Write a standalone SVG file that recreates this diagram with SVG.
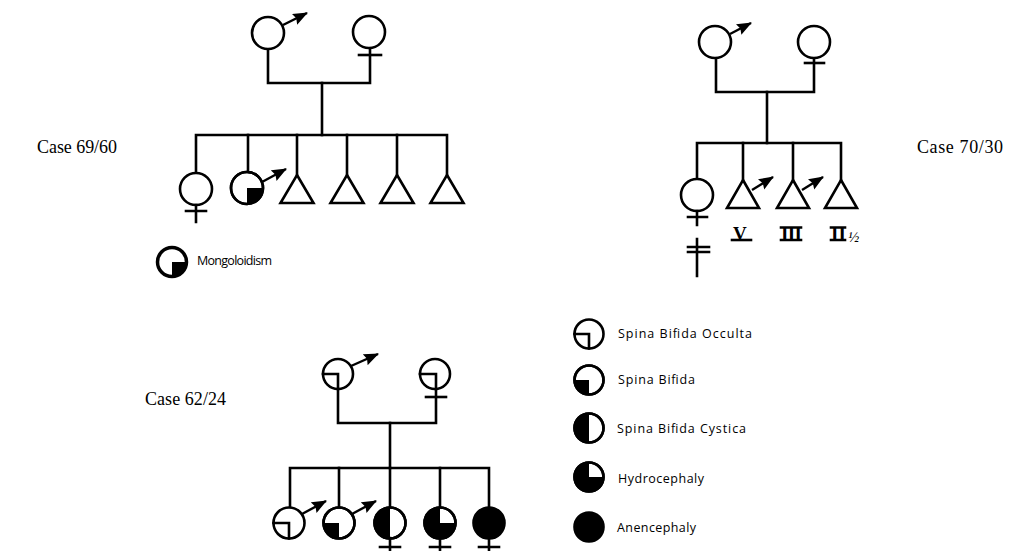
<svg xmlns="http://www.w3.org/2000/svg" width="1011" height="551" viewBox="0 0 1011 551">
<style>
.ln{fill:none;stroke:#000;stroke-width:2.6;stroke-linecap:square}
.c{fill:#fff;stroke:#000;stroke-width:2.6}
.co{fill:none;stroke:#000;stroke-width:2.6}
.f{fill:#000;stroke:none}
.ar{fill:none;stroke:#000;stroke-width:2.4;marker-end:url(#ah)}
.case{font-family:"Liberation Serif",serif;font-size:18px;fill:#000}
.lg{font-family:"Open Sans","Liberation Sans",sans-serif;font-size:12.5px;fill:#000}
.rn{font-family:"Liberation Serif",serif;font-size:19px;font-weight:bold;fill:#000}
</style>
<defs>
<marker id="ah" markerUnits="userSpaceOnUse" markerWidth="18" markerHeight="14" refX="14" refY="6" orient="auto">
<path d="M0,0 L15,6 L0,12 L2,6 Z" fill="#000"/>
</marker>
</defs>
<rect width="1011" height="551" fill="#fff"/>

<!-- Case labels -->
<text id="label-69-60" class="case" x="37" y="153" textLength="80">Case 69/60</text>
<text id="label-70-30" class="case" x="917" y="153" textLength="86">Case 70/30</text>
<text id="label-62-24" class="case" x="145" y="405" textLength="81">Case 62/24</text>

<!-- Connectors -->
<g id="connectors" class="ln">
<!-- Case 69/60 -->
<path d="M268,49 V83 H370 V48"/>
<path d="M322,83 V135"/>
<path d="M196,173 V135 H447 V175"/>
<path d="M248,135 V172"/>
<path d="M297,135 V175"/>
<path d="M347,135 V175"/>
<path d="M397,135 V175"/>
<!-- Case 70/30 -->
<path d="M716,58 V92 H814 V58"/>
<path d="M767,92 V143"/>
<path d="M697,179 V143 H841 V180"/>
<path d="M743,143 V180"/>
<path d="M793,143 V180"/>
<!-- Case 62/24 -->
<path d="M338,389 V423 H436 V389"/>
<path d="M390,423 V468"/>
<path d="M290,507 V468 H489 V507"/>
<path d="M339,468 V507"/>
<path d="M390,468 V507"/>
<path d="M440,468 V507"/>
</g>

<!-- Case 69/60 nodes -->
<g id="c69-father">
<circle class="c" cx="268" cy="33" r="16"/>
<line class="ar" x1="283" y1="25" x2="307" y2="13"/>
</g>
<g id="c69-mother">
<circle class="c" cx="369" cy="32" r="16"/>
<path class="ln" d="M359,55 H381"/>
</g>
<g id="c69-child1">
<circle class="c" cx="196" cy="189" r="16"/>
<path class="ln" d="M196,205 V222 M186,211 H206"/>
</g>
<g id="c69-child2">
<circle class="c" cx="247" cy="188" r="16"/>
<path class="f" d="M247,188 H263 A16,16 0 0 1 247,204 Z"/>
<circle class="co" cx="247" cy="188" r="16"/>
<line class="ar" x1="262" y1="182" x2="286" y2="169"/>
</g>
<g id="c69-child3"><path class="c" d="M297,175 L313.5,203 H280.5 Z"/></g>
<g id="c69-child4"><path class="c" d="M347,175 L363.5,203 H330.5 Z"/></g>
<g id="c69-child5"><path class="c" d="M397,175 L413.5,203 H380.5 Z"/></g>
<g id="c69-child6"><path class="c" d="M447,175 L463.5,203 H430.5 Z"/></g>
<g id="legend-mongoloidism">
<path class="f" d="M172,262 H186.5 A14.5,14.5 0 0 1 172,276.5 Z"/>
<circle cx="172" cy="262" r="14.5" fill="none" stroke="#000" stroke-width="3.5"/>
<text class="lg" x="197" y="265" font-size="12" textLength="75">Mongoloidism</text>
</g>

<!-- Case 70/30 nodes -->
<g id="c70-father">
<circle class="c" cx="715" cy="42" r="16"/>
<line class="ar" x1="730" y1="34" x2="751" y2="23"/>
</g>
<g id="c70-mother">
<circle class="c" cx="814" cy="42" r="16"/>
<path class="ln" d="M805,63 H824"/>
</g>
<g id="c70-child1">
<circle class="c" cx="697" cy="195" r="16"/>
<path class="ln" d="M697,211 V225 M688,217 H707"/>
<path class="ln" d="M697,239 V276 M688,247 H709 M688,252 H709"/>
</g>
<g id="c70-child2">
<path class="c" d="M743,180 L759,208 H727 Z"/>
<line class="ar" x1="752" y1="190" x2="773" y2="177"/>
<text class="rn" x="733" y="240" textLength="19">V</text>
<path class="ln" d="M732,240 H751" stroke-width="2"/>
</g>
<g id="c70-child3">
<path class="c" d="M793,180 L809,208 H777 Z"/>
<line class="ar" x1="802" y1="190" x2="823" y2="177"/>
<text class="rn" x="781" y="240" textLength="21">III</text>
<path class="ln" d="M781,227.5 H801 M781,240 H801" stroke-width="2"/>
</g>
<g id="c70-child4">
<path class="c" d="M841,180 L857,208 H825 Z"/>
<text class="rn" x="831" y="240" textLength="15">II</text>
<path class="ln" d="M831,227.5 H845 M831,240 H845" stroke-width="2"/>
<text x="848" y="242" font-family="Liberation Serif,serif" font-size="15" font-style="italic">½</text>
</g>

<!-- Case 62/24 nodes -->
<g id="c62-father">
<circle class="c" cx="338" cy="374" r="15"/>
<path class="ln" d="M323,374 H338 V389" stroke-linecap="butt"/>
<line class="ar" x1="351" y1="366" x2="378" y2="354"/>
</g>
<g id="c62-mother">
<circle class="c" cx="435" cy="374" r="15"/>
<path class="ln" d="M420,374 H436 V389" stroke-linecap="butt"/>
<path class="ln" d="M426,397 H446"/>
</g>
<g id="c62-child1">
<circle class="c" cx="289" cy="523" r="15.5"/>
<path class="ln" d="M273.5,523 H289 V538.5" stroke-linecap="butt"/>
<line class="ar" x1="302" y1="514" x2="326" y2="501"/>
</g>
<g id="c62-child2">
<circle class="c" cx="339" cy="523" r="15.5"/>
<path class="f" d="M339,523 H323.5 A15.5,15.5 0 0 0 339,538.5 Z"/>
<circle class="co" cx="339" cy="523" r="15.5"/>
<line class="ar" x1="352" y1="514" x2="376" y2="501"/>
</g>
<g id="c62-child3">
<circle class="c" cx="390" cy="523" r="15.5"/>
<path class="f" d="M390,507.5 A15.5,15.5 0 0 0 390,538.5 Z"/>
<circle class="co" cx="390" cy="523" r="15.5"/>
<path class="ln" d="M390,538 V551 M380,547 H400"/>
</g>
<g id="c62-child4">
<circle class="c" cx="440" cy="523" r="15.5"/>
<path class="f" d="M440,523 H455.5 A15.5,15.5 0 1 1 440,507.5 Z"/>
<circle class="co" cx="440" cy="523" r="15.5"/>
<path class="ln" d="M440,538 V551 M430,547 H450"/>
</g>
<g id="c62-child5">
<circle cx="489" cy="523" r="15.5" fill="#000" stroke="#000" stroke-width="2.6"/>
<path class="ln" d="M489,538 V551 M479,547 H499"/>
</g>

<!-- Legend -->
<g id="legend-occulta">
<circle class="c" cx="589" cy="334" r="14.5"/>
<path class="ln" d="M574.5,334 H589 V348.5" stroke-linecap="butt"/>
<text class="lg" x="618" y="338" textLength="134">Spina Bifida Occulta</text>
</g>
<g id="legend-spina-bifida">
<circle class="c" cx="589" cy="380" r="14.5"/>
<path class="f" d="M589,380 H574.5 A14.5,14.5 0 0 0 589,394.5 Z"/>
<circle class="co" cx="589" cy="380" r="14.5"/>
<text class="lg" x="618" y="384" textLength="77">Spina Bifida</text>
</g>
<g id="legend-cystica">
<circle class="c" cx="589" cy="428" r="14.5"/>
<path class="f" d="M589,413.5 A14.5,14.5 0 0 0 589,442.5 Z"/>
<circle class="co" cx="589" cy="428" r="14.5"/>
<text class="lg" x="617" y="433" textLength="129">Spina Bifida Cystica</text>
</g>
<g id="legend-hydrocephaly">
<circle class="c" cx="589" cy="477" r="14.5"/>
<path class="f" d="M589,477 H603.5 A14.5,14.5 0 1 1 589,462.5 Z"/>
<circle class="co" cx="589" cy="477" r="14.5"/>
<text class="lg" x="618" y="483" textLength="86">Hydrocephaly</text>
</g>
<g id="legend-anencephaly">
<circle cx="589" cy="527" r="14.5" fill="#000" stroke="#000" stroke-width="2.6"/>
<text class="lg" x="617" y="532" textLength="79">Anencephaly</text>
</g>
</svg>
